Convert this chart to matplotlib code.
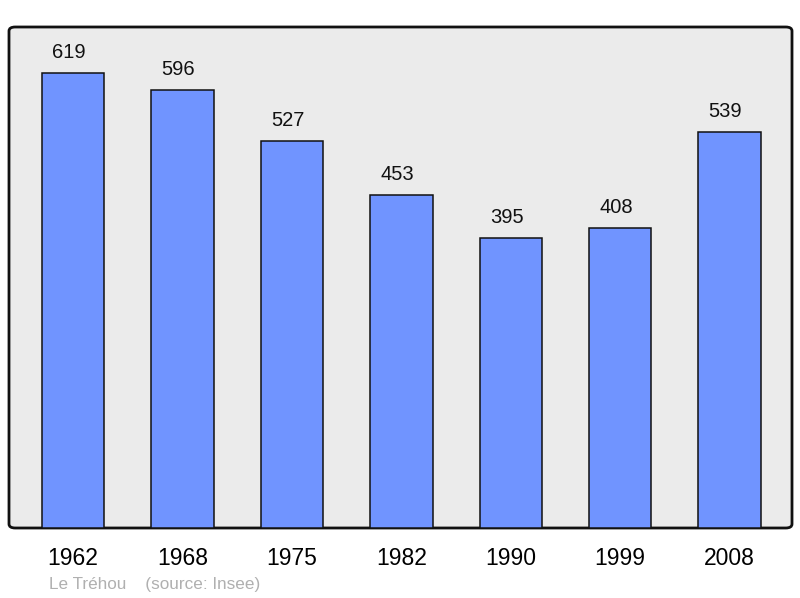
import matplotlib
matplotlib.use("Agg")
import matplotlib.pyplot as plt
from matplotlib.patches import FancyBboxPatch

years = ["1962", "1968", "1975", "1982", "1990", "1999", "2008"]
population = [619, 596, 527, 453, 395, 408, 539]

plt.rcParams['font.family'] = ['Liberation Sans', 'DejaVu Sans']

fig = plt.figure(figsize=(8, 5.98), dpi=100)
W, H = 800, 598
left, right, top, bottom = 9, 792, 27, 528
ax = fig.add_axes([left / W, 1 - bottom / H, (right - left) / W, (bottom - top) / H])
ax.patch.set_visible(False)

# rounded grey frame behind the bars
frame = FancyBboxPatch((0, 0), 1, 1,
                       boxstyle="round,pad=0,rounding_size=0.008",
                       transform=ax.transAxes, facecolor="#ebebeb",
                       edgecolor="#111111", linewidth=2, zorder=0, clip_on=False)
ax.add_patch(frame)

x = list(range(len(years)))
ax.bar(x, population, width=0.57, color="#7094ff", edgecolor="#111111", linewidth=1.1, zorder=2)
for xi, v in zip(x, population):
    ax.annotate(str(v), (xi, v), xytext=(-3, 8), textcoords="offset points",
                ha="center", va="bottom", fontsize=14.5, color="#111111")

ax.set_xlim(-0.585, 6.57)
ax.set_ylim(0, 681.6)
ax.set_xticks(x)
ax.set_xticklabels(years, fontsize=16.5)
ax.tick_params(axis="x", length=0, pad=14)
ax.set_yticks([])
for s in ax.spines.values():
    s.set_visible(False)

fig.text(49 / W, 1 - 584 / H, "Le Tréhou    (source: Insee)", fontsize=12.3,
         color="#b0b0b0", ha="left", va="center")

fig.savefig("out.png", dpi=100)
